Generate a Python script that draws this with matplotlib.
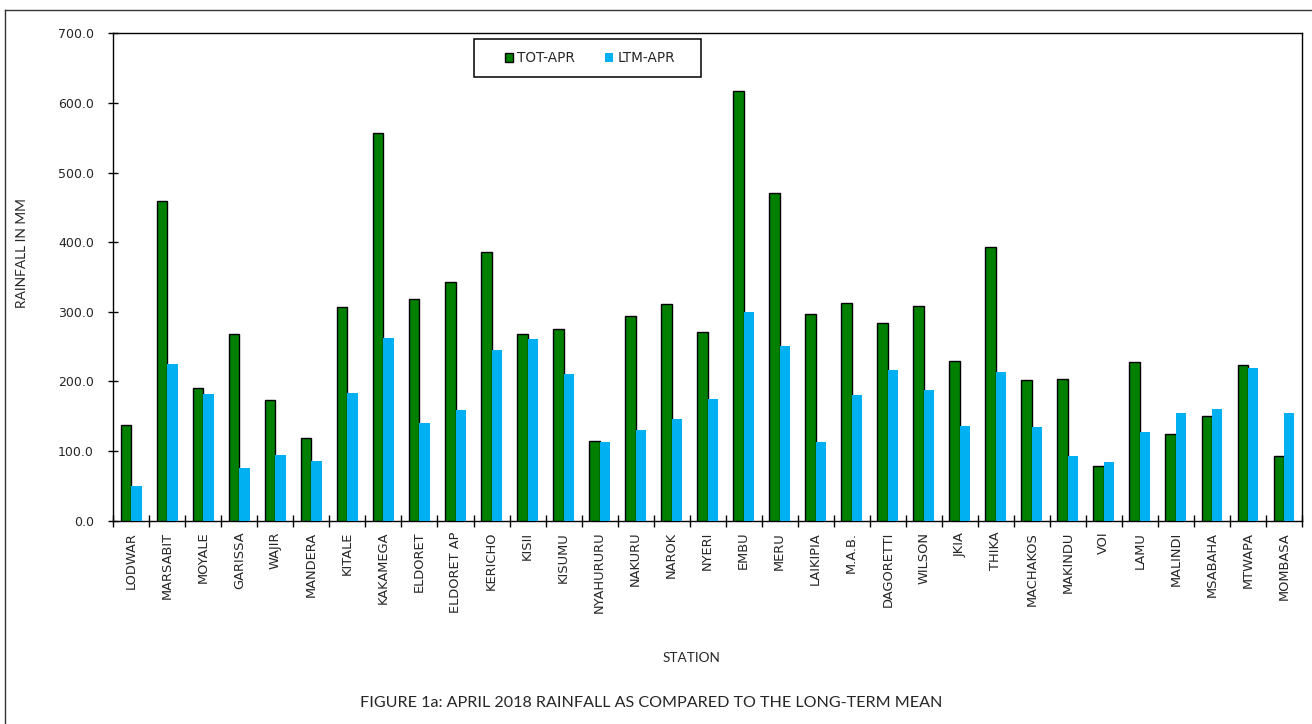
import matplotlib
matplotlib.use("Agg")
import matplotlib.pyplot as plt
from matplotlib.lines import Line2D
from matplotlib.patches import Rectangle, Patch
import numpy as np

plt.rcParams["font.family"] = ["DejaVu Sans"]

stations = ["LODWAR", "MARSABIT", "MOYALE", "GARISSA", "WAJIR", "MANDERA", "KITALE",
            "KAKAMEGA", "ELDORET", "ELDORET AP", "KERICHO", "KISII", "KISUMU",
            "NYAHURURU", "NAKURU", "NAROK", "NYERI", "EMBU", "MERU", "LAIKIPIA",
            "M.A.B.", "DAGORETTI", "WILSON", "JKIA", "THIKA", "MACHAKOS", "MAKINDU",
            "VOI", "LAMU", "MALINDI", "MSABAHA", "MTWAPA", "MOMBASA"]
tot_apr = [137.2, 459.5, 190.2, 267.7, 173.0, 118.6, 306.8, 556.3, 318.3, 342.7,
           386.2, 267.7, 275.3, 114.7, 293.9, 310.7, 271.0, 617.5, 470.8, 297.3,
           312.6, 284.4, 308.8, 229.4, 393.4, 201.7, 203.2, 78.9, 227.5, 124.3,
           150.5, 224.2, 92.3]
ltm_apr = [49.3, 224.7, 181.6, 76.0, 94.2, 85.6, 183.5, 262.4, 140.0, 158.7,
           245.7, 260.5, 211.3, 113.3, 130.5, 145.4, 175.5, 300.2, 250.9, 113.3,
           181.2, 217.0, 188.4, 135.8, 213.2, 133.9, 92.3, 84.6, 126.7, 154.8,
           160.6, 218.9, 154.8]
y_ticks = [0, 100, 200, 300, 400, 500, 600, 700]
series_names = ["TOT-APR", "LTM-APR"]

W, H = 1312, 724
fig = plt.figure(figsize=(W / 100, H / 100), dpi=100)
fig.patch.set_facecolor("white")

def fx(px):
    return px / W

def fy(py):
    return 1 - py / H

left, right, top, bottom = 113.3, 1302, 33.3, 520.7
ax = fig.add_axes([fx(left), fy(bottom), fx(right - left), (bottom - top) / H])

GREEN = "#007F00"
BLUE = "#00B0F0"
TXT = "#262626"

x = np.arange(len(stations))
bw = 0.29
ax.bar(x - 0.145, tot_apr, width=bw, color=GREEN, edgecolor="black", linewidth=1.0, zorder=3)
ax.bar(x + 0.145, ltm_apr, width=bw, color=BLUE, edgecolor="none", linewidth=0, zorder=3)

ax.set_xlim(-0.5, len(stations) - 0.5)
ax.set_ylim(0, 700)
ax.set_yticks(y_ticks)
ax.set_yticklabels([f"{v:.1f}" for v in y_ticks], family="DejaVu Sans")

ax.set_xticks(np.arange(len(stations) + 1) - 0.5)
ax.set_xticklabels([])
ax.set_xticks(x, minor=True)
ax.set_xticklabels(stations, minor=True, rotation=90, va="top", ha="center",
                   family="DejaVu Sans")

ax.tick_params(axis="x", which="major", direction="inout", length=8.4, width=1.0, color="black")
ax.tick_params(axis="x", which="minor", length=0, pad=8, labelsize=9.4, labelcolor=TXT)
ax.tick_params(axis="y", which="major", direction="inout", length=7.8, width=1.0, color="black",
               pad=10, labelsize=9.0, labelcolor=TXT)
for sp in ax.spines.values():
    sp.set_linewidth(1.0)
    sp.set_color("black")

# legend box
lx0, lx1, ly0, ly1 = 474, 700.7, 39.3, 76.7
fig.patches.append(Rectangle((fx(lx0), fy(ly1)), fx(lx1 - lx0), (ly1 - ly0) / H,
                             transform=fig.transFigure, facecolor="white",
                             edgecolor="black", linewidth=1.1, zorder=5))
handles = [Patch(facecolor=GREEN, edgecolor="black", linewidth=1.0),
           Patch(facecolor=BLUE, edgecolor="none")]
leg = fig.legend(handles, series_names, loc="center", ncol=2,
                 bbox_to_anchor=(fx(590), fy(58)), frameon=False,
                 prop={"family": "DejaVu Sans", "size": 9.8},
                 handlelength=0.6, handleheight=0.6,
                 handletextpad=0.3, columnspacing=2.2, labelcolor=TXT)
leg.set_zorder(6)

# figure border (left and top)
fig.add_artist(Line2D([fx(4.5), fx(W + 5)], [fy(10), fy(10)], color="#333333", lw=1.0))
fig.add_artist(Line2D([fx(4.5), fx(4.5)], [fy(10), fy(H + 5)], color="#333333", lw=1.0))

fig.canvas.draw()
renderer = fig.canvas.get_renderer()

def fit_text(t, target_px, axis="w"):
    for _ in range(3):
        bb = t.get_window_extent(renderer)
        cur = bb.width if axis == "w" else bb.height
        if cur > 0:
            t.set_fontsize(t.get_fontsize() * target_px / cur)

ylab = fig.text(fx(22), fy(253), "RAINFALL IN MM", rotation=90, ha="center", va="center",
                fontsize=9.5, color=TXT, family="Lato")
fit_text(ylab, 110, "h")
xlab = fig.text(fx(691), fy(658), "STATION", ha="center", va="center",
                fontsize=10, color=TXT, family="Lato")
fit_text(xlab, 58, "w")
cap = fig.text(fx(651.5), fy(703), "FIGURE 1a: APRIL 2018 RAINFALL AS COMPARED TO THE LONG-TERM MEAN",
               ha="center", va="center", fontsize=11, color=TXT, family="Lato")
fit_text(cap, 583, "w")

fig.savefig("out.png", dpi=100, facecolor="white")
